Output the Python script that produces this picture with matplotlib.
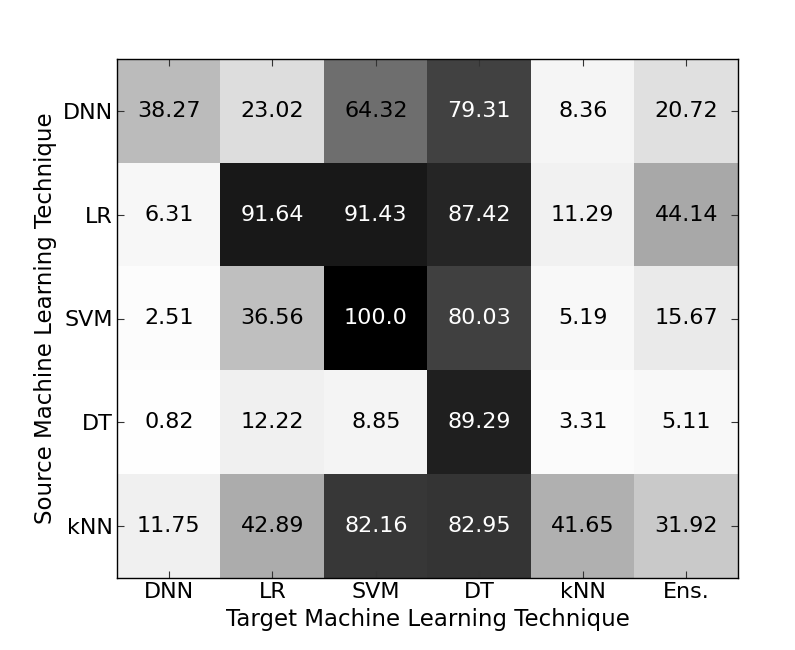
import matplotlib
matplotlib.use("Agg")
import matplotlib.pyplot as plt
import numpy as np

sources = ["DNN", "LR", "SVM", "DT", "kNN"]
targets = ["DNN", "LR", "SVM", "DT", "kNN", "Ens."]
row_dnn = [38.27, 23.02, 64.32, 79.31, 8.36, 20.72]
row_lr = [6.31, 91.64, 91.43, 87.42, 11.29, 44.14]
row_svm = [2.51, 36.56, 100.0, 80.03, 5.19, 15.67]
row_dt = [0.82, 12.22, 8.85, 89.29, 3.31, 5.11]
row_knn = [11.75, 42.89, 82.16, 82.95, 41.65, 31.92]

data = np.array([row_dnn, row_lr, row_svm, row_dt, row_knn])

plt.rcParams['font.family'] = ['DejaVu Sans']
plt.rcParams['font.size'] = 16

fig = plt.figure(figsize=(7.95, 6.5), dpi=100)
ax = fig.add_axes([0.1472, 0.1108, 0.7811, 0.7984])
ax.imshow(data, cmap='Greys', vmin=0, vmax=100, interpolation='nearest', aspect='auto')

for i in range(data.shape[0]):
    for j in range(data.shape[1]):
        v = data[i, j]
        ax.text(j, i, f"{v}", ha='center', va='center', fontsize=16,
                color='white' if v > 70 else 'black')

ax.set_xticks(range(len(targets)))
ax.set_xticklabels(targets)
ax.set_yticks(range(len(sources)))
ax.set_yticklabels(sources)
ax.tick_params(direction='in', length=5, width=0.8, top=True, right=True,
               labelsize=16, pad=3, color='#333333')
for s in ax.spines.values():
    s.set_linewidth(1.0)
ax.set_xlabel("Target Machine Learning Technique", fontsize=16.5, labelpad=4)
ax.set_ylabel("Source Machine Learning Technique", fontsize=16.5, labelpad=4)

fig.savefig("out.png", dpi=100, facecolor='white')
